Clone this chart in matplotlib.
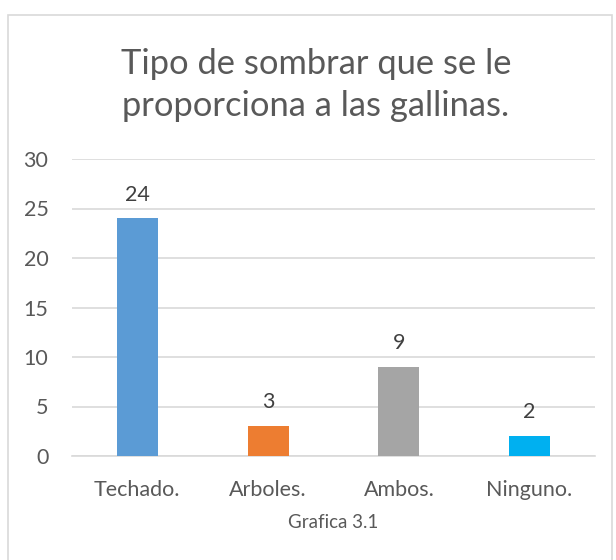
import matplotlib.pyplot as plt
from matplotlib.patches import Rectangle

categorias = ['Techado.', 'Arboles.', 'Ambos.', 'Ninguno.']
valores = [24, 3, 9, 2]
colores = ['#5B9BD5', '#ED7D31', '#A5A5A5', '#00B0F0']
yticks = [0, 5, 10, 15, 20, 25, 30]

plt.rcParams['font.family'] = ['Lato', 'DejaVu Sans']
texto = '#595959'

W, H = 616, 560
fig = plt.figure(figsize=(W / 100, H / 100), dpi=100)

# borde del area del grafico (recortado a la derecha y abajo)
fig.patches.append(Rectangle((8 / W, -0.1), (612 - 8) / W, 1.1 - 15 / H,
                             transform=fig.transFigure, fill=False,
                             edgecolor='#D9D9D9', linewidth=1.2))

ax = fig.add_axes([72 / W, 1 - 456 / H, (595 - 72) / W, (456 - 159) / H])
x = range(len(categorias))
barras = ax.bar(x, valores, width=0.315, color=colores, zorder=3)
for b, v in zip(barras, valores):
    ax.text(b.get_x() + b.get_width() / 2, v + 1.4, str(v), ha='center',
            va='bottom', fontsize=15.5, color='#404040')

ax.set_xlim(-0.5, len(categorias) - 0.5)
ax.set_ylim(0, 30)
ax.set_yticks(yticks)
ax.set_xticks(list(x))
ax.set_xticklabels(categorias)
ax.tick_params(axis='both', length=0, labelsize=15.5, labelcolor=texto)
ax.tick_params(axis='y', pad=17)
ax.tick_params(axis='x', pad=17)
ax.yaxis.grid(True, color='#D9D9D9', linewidth=1.2, zorder=0)
for s in ['left', 'right', 'top']:
    ax.spines[s].set_visible(False)
ax.spines['bottom'].set_color('#D9D9D9')
ax.spines['bottom'].set_linewidth(1.2)
ax.set_xlabel('Grafica 3.1', fontsize=13.5, color=texto, labelpad=10)

fig.text(316 / W, 1 - 85 / H, 'Tipo de sombrar que se le\nproporciona a las gallinas.',
         ha='center', va='center', fontsize=24.8, color=texto, linespacing=1.4)

fig.savefig('out.png', dpi=100)
